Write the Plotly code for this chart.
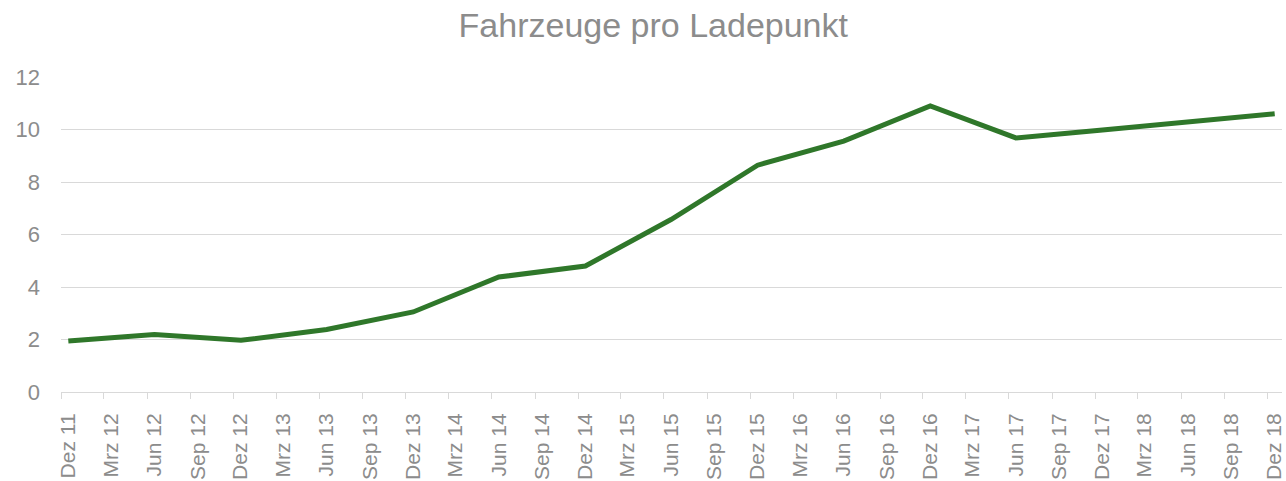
import pandas as pd
import plotly.graph_objects as go

# Data (semiannual readings)
months = ["2011-12", "2012-06", "2012-12", "2013-06", "2013-12", "2014-06",
          "2014-12", "2015-06", "2015-12", "2016-06", "2016-12", "2017-06",
          "2017-12", "2018-06", "2018-12"]
fahrzeuge_pro_ladepunkt = [1.94, 2.19, 1.97, 2.38, 3.05, 4.38,
                           4.80, 6.57, 8.64, 9.56, 10.90, 9.68,
                           9.98, 10.29, 10.60]

# Quarterly tick labels
tick_months = pd.period_range("2011-12", "2018-12", freq="3M")
tick_labels = ["Dez 11", "Mrz 12", "Jun 12", "Sep 12", "Dez 12", "Mrz 13", "Jun 13",
               "Sep 13", "Dez 13", "Mrz 14", "Jun 14", "Sep 14", "Dez 14", "Mrz 15",
               "Jun 15", "Sep 15", "Dez 15", "Mrz 16", "Jun 16", "Sep 16", "Dez 16",
               "Mrz 17", "Jun 17", "Sep 17", "Dez 17", "Mrz 18", "Jun 18", "Sep 18",
               "Dez 18"]

# points sit in the middle of their month (Excel date axis, base unit months)
per = [pd.Period(m, freq="M") for m in months]
x_pts = [p.start_time + (p.end_time - p.start_time) / 2 for p in per]
tick_vals = [p.start_time for p in tick_months]

GRAY = "#8c8c8c"
GRID = "#d9d9d9"
FONT = "Liberation Sans"

fig = go.Figure()
fig.add_trace(go.Scatter(
    x=x_pts, y=fahrzeuge_pro_ladepunkt, mode="lines",
    line=dict(color="#2F772A", width=5), hoverinfo="x+y", showlegend=False,
))

fig.update_layout(
    width=1286, height=481,
    margin=dict(l=61, r=4, t=77, b=89, autoexpand=False),
    paper_bgcolor="white", plot_bgcolor="white",
    font=dict(family=FONT, color=GRAY),
    title=dict(text="Fahrzeuge pro Ladepunkt", x=0.508, xanchor="center",
               y=0.948, yanchor="middle",
               font=dict(family=FONT, size=34, color=GRAY)),
    xaxis=dict(
        type="date", automargin=False,
        range=[pd.Period("2011-12", freq="M").start_time,
               pd.Period("2019-01", freq="M").start_time],
        tickvals=tick_vals, ticktext=tick_labels, tickangle=-90,
        tickfont=dict(family=FONT, size=21, color=GRAY),
        ticks="outside", ticklen=6, tickcolor=GRID, tickwidth=1,
        showgrid=False, showline=True, linecolor=GRID, linewidth=1,
        zeroline=False, ticklabelstandoff=6, ticklabelshift=7,
    ),
    yaxis=dict(
        range=[0, 12], tickvals=[0, 2, 4, 6, 8, 10, 12], automargin=False,
        tickfont=dict(family=FONT, size=22, color=GRAY),
        showgrid=True, gridcolor=GRID, gridwidth=1,
        zeroline=False, showline=False, ticks="",
        ticklabelstandoff=20,
    ),
)

fig.write_html("out.html", config={"displayModeBar": False},
               post_script="document.body.style.margin='0';document.body.style.overflow='hidden';")
